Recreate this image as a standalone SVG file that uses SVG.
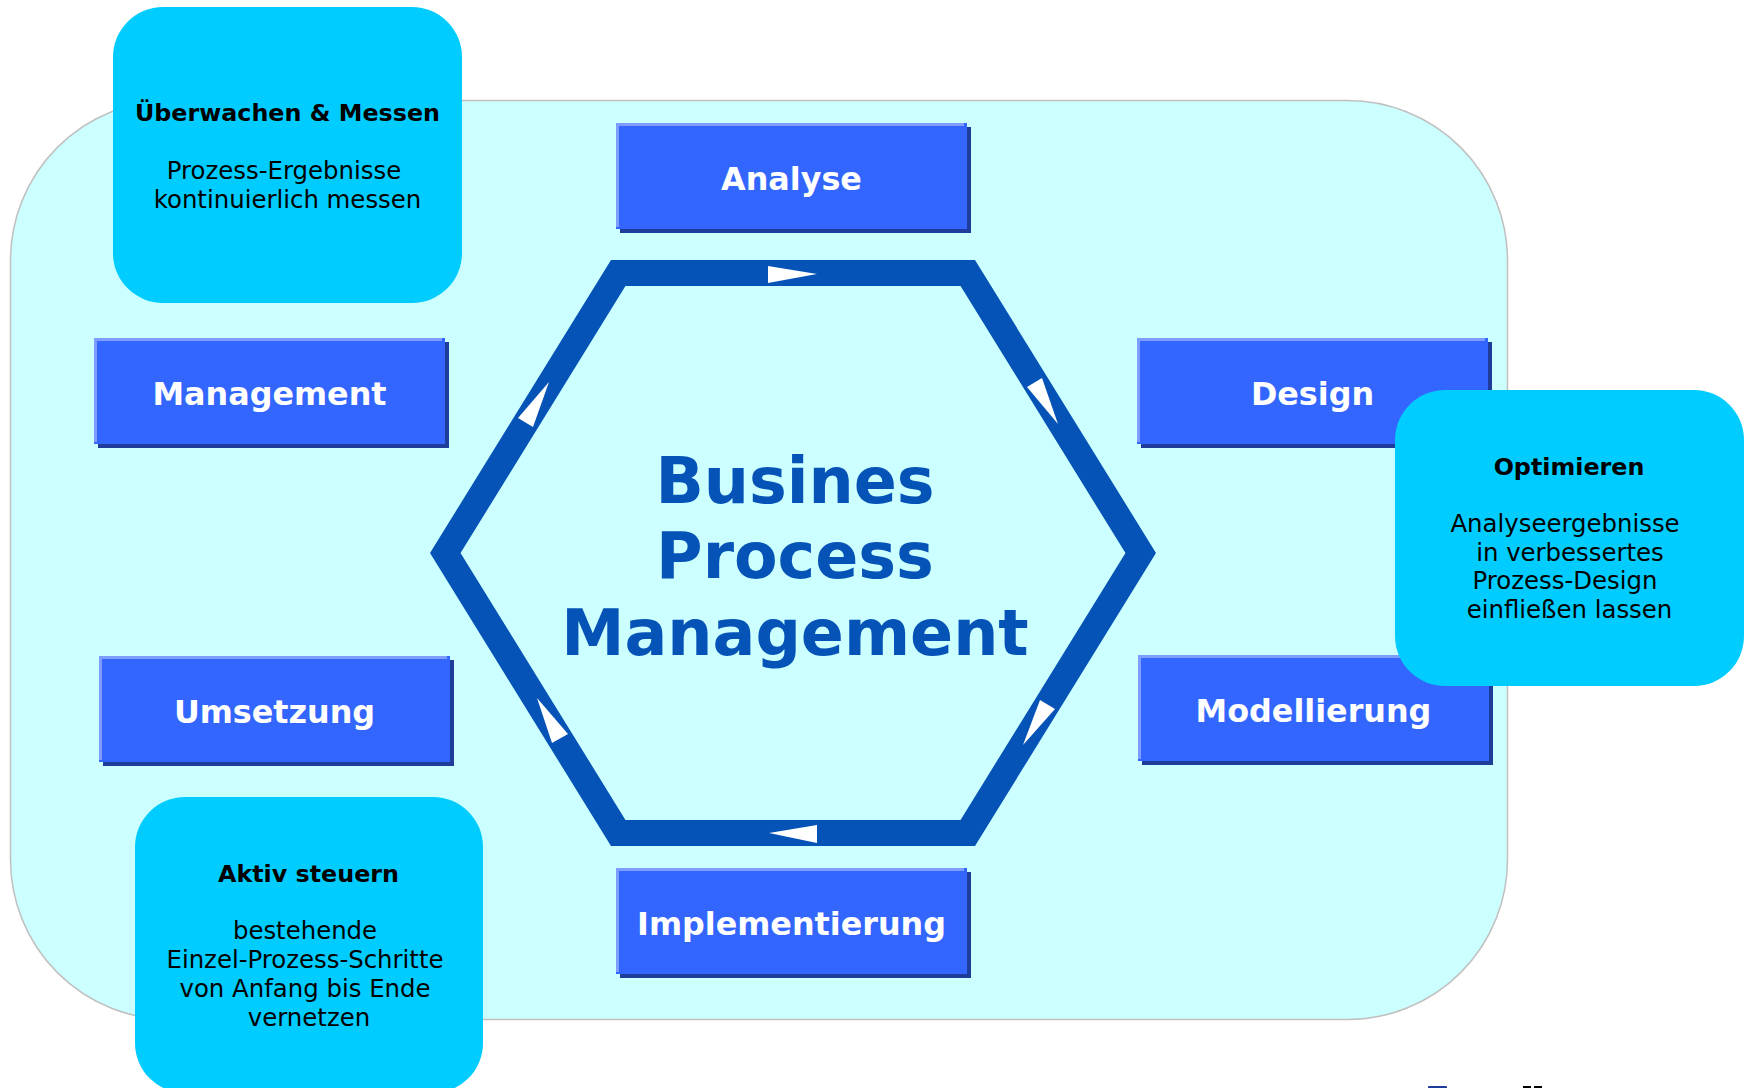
<svg xmlns="http://www.w3.org/2000/svg" width="1747" height="1088" viewBox="0 0 1747 1088">
<style>
  text { font-family: "DejaVu Sans", "Noto Sans", sans-serif; text-anchor: middle; }
  .step-shadow { fill: #1f3c9a; }
  .step-body { fill: #3366ff; }
  .step-light { fill: #7f9cff; }
  .step-label { fill: #ffffff; font-weight: bold; font-size: 31.8px; }
  .note { fill: #00ccff; }
  .note-title { fill: #000000; font-weight: bold; font-size: 23.8px; }
  .note-text { fill: #000000; font-size: 24.4px; }
  .cycle { fill: none; stroke: #0553b7; stroke-width: 26; stroke-linejoin: miter; }
  .arrow { fill: #ffffff; }
  .center-title { fill: #0553b7; font-weight: bold; font-size: 63.5px; }
</style>
<rect id="background" x="10.5" y="100.5" width="1497" height="919" rx="160" ry="160" fill="#ccffff" stroke="#c0c0c0" stroke-width="1.5"/>

<g id="connectors">
  <polygon class="cycle" points="618.25,273 967.75,273 1140.7,553 967.75,833 618.25,833 445.3,553"/>
  <polygon class="arrow" points="768,266 768,283 817,274"/>
  <polygon class="arrow" points="1027,387 1042,378 1058,424"/>
  <polygon class="arrow" points="1040,700 1055,709 1023,745"/>
  <polygon class="arrow" points="817,825 817,843 769,833"/>
  <polygon class="arrow" points="552,743 568,734 537,698"/>
  <polygon class="arrow" points="518,418 533,427 549,382"/>
</g>

<g id="center-label">
  <text class="center-title" x="795" y="503">Busines</text>
  <text class="center-title" x="795" y="578">Process</text>
  <text class="center-title" x="795" y="655">Management</text>
</g>

<g id="analyse">
  <rect class="step-shadow" x="620" y="127" width="351" height="106"/>
  <rect class="step-body" x="616" y="123" width="351" height="106"/>
  <rect class="step-light" x="616" y="123" width="348" height="3"/>
  <rect class="step-light" x="616" y="123" width="3" height="104"/>
  <text class="step-label" x="791.5" y="190">Analyse</text>
</g>

<g id="design">
  <rect class="step-shadow" x="1141" y="342" width="351" height="106"/>
  <rect class="step-body" x="1137" y="338" width="351" height="106"/>
  <rect class="step-light" x="1137" y="338" width="348" height="3"/>
  <rect class="step-light" x="1137" y="338" width="3" height="104"/>
  <text class="step-label" x="1312.5" y="405">Design</text>
</g>

<g id="modellierung">
  <rect class="step-shadow" x="1142" y="659" width="351" height="106"/>
  <rect class="step-body" x="1138" y="655" width="351" height="106"/>
  <rect class="step-light" x="1138" y="655" width="348" height="3"/>
  <rect class="step-light" x="1138" y="655" width="3" height="104"/>
  <text class="step-label" x="1313.5" y="722">Modellierung</text>
</g>

<g id="implementierung">
  <rect class="step-shadow" x="620" y="872" width="351" height="106"/>
  <rect class="step-body" x="616" y="868" width="351" height="106"/>
  <rect class="step-light" x="616" y="868" width="348" height="3"/>
  <rect class="step-light" x="616" y="868" width="3" height="104"/>
  <text class="step-label" x="791.5" y="935">Implementierung</text>
</g>

<g id="umsetzung">
  <rect class="step-shadow" x="103" y="660" width="351" height="106"/>
  <rect class="step-body" x="99" y="656" width="351" height="106"/>
  <rect class="step-light" x="99" y="656" width="348" height="3"/>
  <rect class="step-light" x="99" y="656" width="3" height="104"/>
  <text class="step-label" x="274.5" y="723">Umsetzung</text>
</g>

<g id="management">
  <rect class="step-shadow" x="98" y="342" width="351" height="106"/>
  <rect class="step-body" x="94" y="338" width="351" height="106"/>
  <rect class="step-light" x="94" y="338" width="348" height="3"/>
  <rect class="step-light" x="94" y="338" width="3" height="104"/>
  <text class="step-label" x="269.5" y="405">Management</text>
</g>

<g id="ueberwachen-messen">
  <rect class="note" x="113" y="7" width="349" height="296" rx="50" ry="50"/>
  <text class="note-title" x="287.5" y="121">Überwachen &amp; Messen</text>
  <text class="note-text" x="284" y="179">Prozess-Ergebnisse</text>
  <text class="note-text" x="287.5" y="208">kontinuierlich messen</text>
</g>

<g id="optimieren">
  <rect class="note" x="1395" y="390" width="349" height="296" rx="50" ry="50"/>
  <text class="note-title" x="1569" y="475">Optimieren</text>
  <text class="note-text" x="1565" y="532">Analyseergebnisse</text>
  <text class="note-text" x="1570" y="561">in verbessertes</text>
  <text class="note-text" x="1565" y="589">Prozess-Design</text>
  <text class="note-text" x="1569.5" y="618">einfließen lassen</text>
</g>

<g id="aktiv-steuern">
  <rect class="note" x="135" y="797" width="348" height="296" rx="50" ry="50"/>
  <text class="note-title" x="308.5" y="882">Aktiv steuern</text>
  <text class="note-text" x="305" y="939">bestehende</text>
  <text class="note-text" x="305" y="968">Einzel-Prozess-Schritte</text>
  <text class="note-text" x="305" y="997">von Anfang bis Ende</text>
  <text class="note-text" x="309" y="1026">vernetzen</text>
</g>

<rect x="1428" y="1086" width="19" height="3" rx="1" fill="#1f3c9a"/>
<rect x="1523" y="1086" width="8" height="3" fill="#000000"/>
<rect x="1534" y="1086" width="8" height="3" fill="#000000"/>
</svg>
